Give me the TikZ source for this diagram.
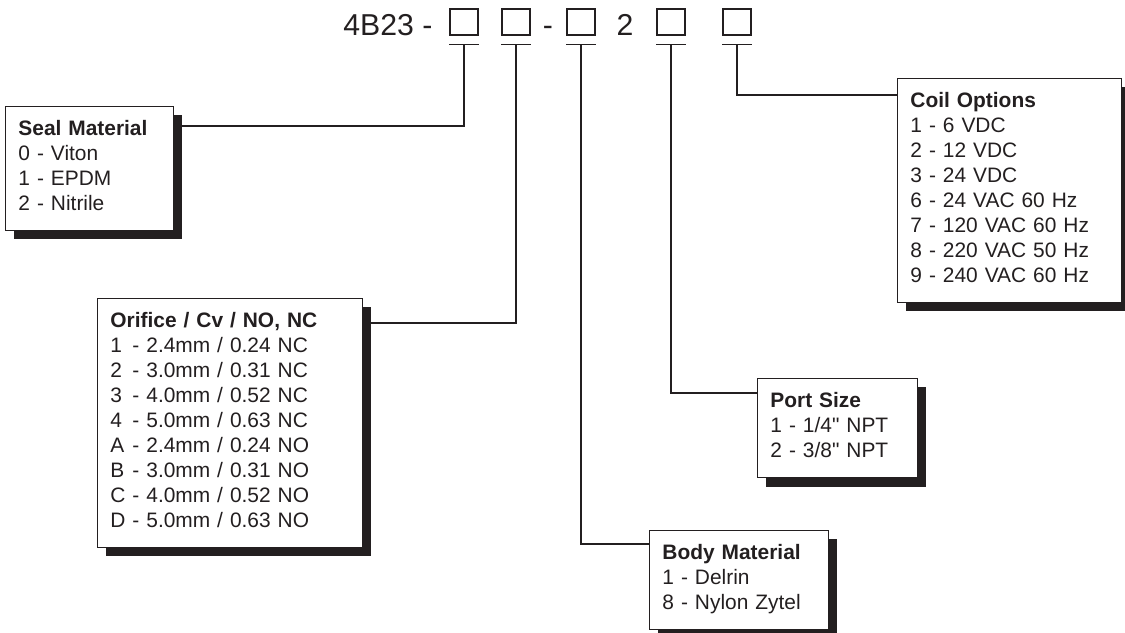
\documentclass[tikz,border=0pt]{standalone}
\usepackage{fontspec}
\setmainfont{Liberation Sans}[Ligatures=TeXOff]
\usepackage{tikz}
\definecolor{ink}{HTML}{231F20}
\usetikzlibrary{shadows, calc}

\newcommand{\gap}{\rule[-3.5pt]{0pt}{3.5pt}}
\newcommand{\key}[1]{\makebox[0.72em][l]{#1}}

\begin{document}
\begin{tikzpicture}[x=0.02cm, y=-0.02cm,
  optbox/.style={draw=ink, line width=0.5pt, fill=white, align=left, anchor=north west,
    inner xsep=7.4pt, inner ysep=8pt, text width=#1, text=ink,
    font=\fontsize{11.9}{14.2}\selectfont,
    drop shadow={shadow xshift=5pt, shadow yshift=-5pt, fill=ink, opacity=1}},
  slot/.style={draw=ink, line width=1.1pt, minimum width=0.55cm, minimum height=0.51cm, inner sep=0pt},
  code/.style={text=ink, font=\fontsize{17.2}{20}\selectfont, inner sep=0pt},
  lead/.style={draw=ink, line width=1.1pt}]
\useasboundingbox (0,0) rectangle (1125,632);

% part number
\node[code, anchor=base west] (part) at (343,35) {4B23 -};
\node[slot] (s1) at (464,22) {};
\node[slot] (s2) at (516,22) {};
\node[code, anchor=base] (dash) at (548,35) {-};
\node[slot] (s3) at (581,22) {};
\node[code, anchor=base] (two) at (625,35) {2};
\node[slot] (s4) at (671,22) {};
\node[slot] (s5) at (737,22) {};

% option boxes
\node[optbox=2.84cm] (seal) at (5,106) {\textbf{Seal Material}\\0 - Viton\\1 - EPDM\\2 - Nitrile\gap};
\node[optbox=4.78cm] (orifice) at (97,298) {\textbf{Orifice / Cv / NO, NC}\\
  \key{1} - 2.4mm / 0.24 NC\\\key{2} - 3.0mm / 0.31 NC\\\key{3} - 4.0mm / 0.52 NC\\\key{4} - 5.0mm / 0.63 NC\\
  \key{A} - 2.4mm / 0.24 NO\\\key{B} - 3.0mm / 0.31 NO\\\key{C} - 4.0mm / 0.52 NO\\\key{D} - 5.0mm / 0.63 NO\gap};
\node[optbox=3.06cm] (body) at (649,530) {\textbf{Body Material}\\1 - Delrin\\8 - Nylon Zytel\gap};
\node[optbox=2.68cm] (port) at (757,378) {\textbf{Port Size}\\1 - 1/4" NPT\\2 - 3/8" NPT\gap};
\node[optbox=3.96cm] (coil) at (897,78) {\textbf{Coil Options}\\1 - 6 VDC\\2 - 12 VDC\\3 - 24 VDC\\
  6 - 24 VAC 60 Hz\\7 - 120 VAC 60 Hz\\8 - 220 VAC 50 Hz\\9 - 240 VAC 60 Hz\gap};

% leaders
\foreach \s in {s1,s2,s3,s4,s5}
  \draw[lead] ([yshift=-5pt]\s.south west) -- ([yshift=-5pt]\s.south east);
\draw[lead] ([yshift=-5pt]s1.south) |- ($(seal.north east)+(0,20)$);
\draw[lead] ([yshift=-5pt]s2.south) |- ($(orifice.north east)+(0,25)$);
\draw[lead] ([yshift=-5pt]s3.south) |- ($(body.north west)+(0,14)$);
\draw[lead] ([yshift=-5pt]s4.south) |- ($(port.north west)+(0,15)$);
\draw[lead] ([yshift=-5pt]s5.south) |- ($(coil.north west)+(0,17)$);
\end{tikzpicture}
\end{document}
